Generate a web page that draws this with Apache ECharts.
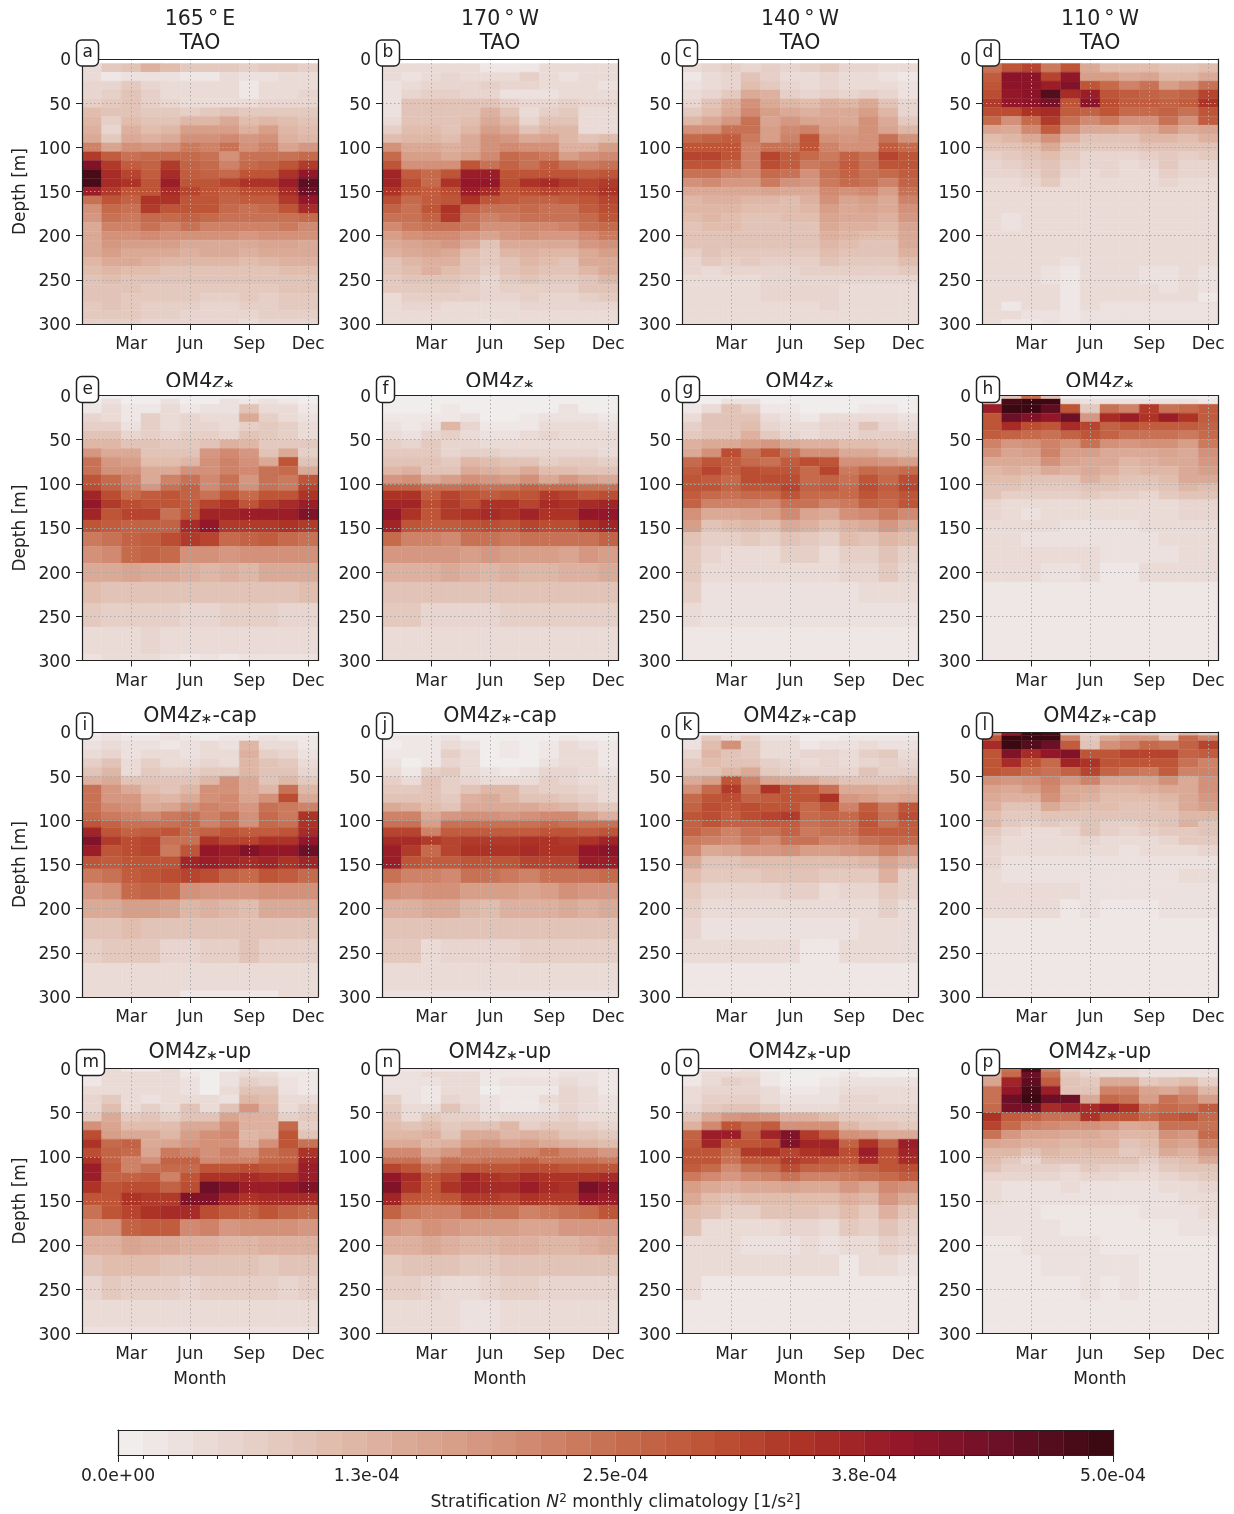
<!DOCTYPE html>
<html><head><meta charset="utf-8">
<style>html,body{margin:0;padding:0;background:#fff}#c{width:1234px;height:1514px}</style>
<script src="https://cdn.jsdelivr.net/npm/echarts@6/dist/echarts.min.js"></script>
</head><body><div id="c"></div>
<script>
const months=['Jan','Feb','Mar','Apr','May','Jun','Jul','Aug','Sep','Oct','Nov','Dec'];
const depthTicks=[0,50,100,150,200,250,300];
const taoEdges=[5,15,25,35,45,55,65,75,85,95,105,115,125,135,145,155,165,175,185,195,205,215,225,235,245,255,265,275,285,295,300];
const om4Edges=[0,4,10,20,30,40,50,60,70,80,90,100,108,118,128,141,155,171,190,211,235,262,293,300];
const colorStops=['#f1eded','#e8d6d0','#e1beb0','#daa692','#d28d75','#c76e50','#bd5234','#ab3025','#931529','#6a1026','#3c0912'];
const cbarLabels=['0.0e+00','1.3e-04','2.5e-04','3.8e-04','5.0e-04'];
const panelLetters=['a','b','c','d','e','f','g','h','i','j','k','l','m','n','o','p'];
const sites=['165\u2009°\u2009E','170\u2009°\u2009W','140\u2009°\u2009W','110\u2009°\u2009W'];

// N2 in units of 1e-5 1/s2; one row per depth bin, one value per month
const a_tao=[[5,8,10,13,11,8,8,8,7,8,8,7],[5,2,3,3,3,2,2,4,3,3,5,5],[6,6,8,6,5,4,4,4,2,5,5,5],[6,7,9,7,5,4,4,4,2,4,5,6],[7,8,9,7,6,5,5,5,5,6,6,6],[11,10,10,8,8,7,8,9,8,8,8,8],[12,7,11,9,10,12,12,14,11,12,11,10],[13,6,13,11,12,17,17,17,13,17,12,11],[14,8,14,13,14,20,20,21,18,20,13,12],[22,16,19,18,20,23,22,24,20,22,16,18],[33,28,24,26,26,26,24,20,24,25,24,26],[42,33,28,27,33,27,26,22,26,27,30,33],[48,36,32,28,36,28,27,26,30,30,35,40],[48,36,35,30,38,30,30,32,34,34,38,46],[38,33,30,30,36,32,29,28,31,31,36,44],[25,29,27,34,34,30,30,27,28,28,33,40],[20,26,25,33,30,29,29,26,25,26,30,36],[18,24,23,26,26,27,26,24,24,24,25,26],[15,22,22,24,22,24,22,22,22,22,23,21],[15,19,19,21,20,19,19,19,18,19,20,19],[15,18,17,17,17,15,15,15,15,16,16,14],[14,17,15,15,14,13,14,14,13,14,15,14],[12,15,14,13,12,12,12,12,11,12,13,13],[11,12,11,11,10,10,10,10,10,10,11,11],[10,11,10,10,10,10,9,9,9,9,10,10],[10,10,9,8,8,8,8,8,8,8,9,9],[9,10,8,8,8,8,7,7,8,7,8,8],[8,9,8,7,7,7,6,6,7,7,8,8],[8,8,8,7,7,6,6,6,6,7,7,7],[7,7,7,6,6,6,6,6,5,6,6,6]];
const b_tao=[[5,5,4,4,5,2,2,2,4,4,4,4],[4,3,5,6,5,4,5,7,5,3,4,4],[3,5,6,6,6,7,6,6,5,5,5,3],[3,6,7,7,6,6,3,3,3,5,5,4],[3,9,9,9,9,9,7,6,6,7,6,6],[3,10,10,10,10,13,10,5,7,8,5,5],[5,10,10,10,11,15,12,6,9,10,4,4],[7,11,11,10,12,17,15,9,12,12,5,5],[11,12,12,11,14,20,18,15,16,12,10,11],[19,14,14,13,15,20,21,20,20,13,13,17],[26,17,17,15,17,21,26,24,23,17,19,21],[29,19,20,19,30,24,27,25,28,24,23,25],[37,28,26,30,38,38,29,30,30,29,28,30],[37,31,26,34,40,40,31,35,36,33,32,33],[35,30,28,31,38,36,30,31,32,31,32,34],[31,26,28,30,35,30,28,27,27,28,30,32],[27,25,30,34,27,25,25,26,25,25,28,31],[24,25,27,33,25,22,23,24,24,24,26,29],[21,23,25,24,23,19,20,21,21,22,24,26],[17,19,21,21,18,16,18,19,18,18,21,23],[15,16,17,18,14,10,14,15,14,14,18,19],[13,14,16,15,11,8,12,13,12,12,15,17],[10,12,13,13,10,8,10,12,11,10,14,15],[9,11,13,11,9,7,10,11,9,9,12,14],[8,9,10,10,8,6,8,9,8,8,10,12],[8,8,8,8,7,6,7,7,7,7,9,10],[5,7,7,7,7,6,6,7,6,6,7,8],[5,6,6,5,5,5,5,6,6,6,6,6],[5,5,5,5,5,5,5,5,5,5,5,5],[5,5,4,5,5,3,5,5,5,5,5,5]];
const c_tao=[[5,6,7,6,7,6,7,8,6,6,5,5],[2,5,6,9,7,5,4,6,5,4,3,2],[3,5,6,11,8,6,5,6,5,5,4,3],[4,6,8,15,13,7,6,7,6,7,6,3],[6,9,13,19,15,12,11,13,12,14,9,6],[8,11,15,21,17,14,13,15,14,17,12,6],[12,14,18,24,16,18,16,16,15,19,14,8],[19,20,24,25,17,21,22,17,17,19,16,12],[26,27,28,23,17,22,29,20,18,20,24,19],[30,30,30,22,24,25,30,22,20,20,28,26],[32,32,29,22,32,28,26,23,27,24,32,29],[29,30,27,22,31,28,23,24,28,25,29,29],[24,24,22,21,26,24,20,25,27,25,26,28],[20,21,18,18,23,20,18,23,26,24,22,27],[15,15,14,15,16,15,15,21,20,21,17,25],[12,13,13,12,12,11,13,19,16,17,15,22],[12,12,12,11,11,11,12,17,15,16,14,20],[11,12,11,10,10,11,11,16,14,14,13,18],[10,11,11,9,9,10,10,15,13,13,12,16],[10,10,10,10,10,9,10,13,12,11,11,15],[9,9,9,9,9,9,9,12,11,10,10,14],[7,9,8,8,8,8,8,11,9,9,9,13],[6,8,7,8,7,7,7,10,8,8,8,11],[6,5,6,6,6,6,7,7,7,7,7,8],[5,5,5,5,6,6,6,6,6,6,6,6],[5,5,5,5,6,6,6,6,5,5,5,5],[5,4,5,5,6,6,6,6,5,5,5,5],[5,4,4,4,5,5,5,6,5,5,5,5],[5,4,5,5,5,5,5,5,5,4,5,5],[5,4,4,4,5,5,5,5,5,4,5,5]];
const d_tao=[[24,30,32,23,30,14,11,11,11,9,9,11],[28,41,41,32,40,17,17,15,16,12,12,14],[30,41,41,38,42,30,26,22,24,17,20,24],[31,40,41,47,36,38,29,28,27,26,27,32],[33,40,41,43,29,41,31,28,28,27,28,34],[31,31,35,36,28,27,30,26,26,27,25,29],[26,19,26,33,25,21,23,19,19,24,19,28],[16,15,21,28,19,14,15,13,15,18,15,16],[11,12,15,19,13,10,10,10,12,12,11,13],[9,9,11,14,10,8,8,8,9,10,9,10],[7,8,9,11,8,6,6,6,7,8,7,8],[6,7,8,10,7,6,6,5,6,8,6,6],[6,6,7,9,6,5,6,5,5,7,6,6],[5,5,6,8,5,5,5,4,5,6,5,5],[4,4,5,5,4,4,4,4,4,5,5,4],[4,4,5,5,4,4,4,4,4,5,5,4],[5,4,5,5,4,4,4,4,4,4,5,4],[5,3,5,4,4,4,4,4,4,4,5,4],[4,3,5,4,4,4,4,4,4,4,4,4],[4,4,4,4,4,4,4,4,4,4,4,4],[4,4,4,4,4,4,4,4,4,4,4,4],[4,4,4,4,4,4,4,4,4,4,4,4],[4,4,4,4,3,4,4,4,4,4,4,4],[4,4,4,3,2,4,4,4,3,3,4,3],[4,4,4,3,2,4,4,4,3,3,4,3],[4,4,4,4,2,4,4,4,4,3,4,3],[4,4,4,4,2,4,4,4,4,4,4,2],[4,2,4,4,2,4,3,3,3,3,3,3],[4,4,3,3,2,3,3,3,3,3,3,3],[4,2,2,3,2,3,3,3,3,3,3,3]];

const e_z=[[1,1,1,1,1,1,1,1,1,1,1,1],[1,3,1,1,3,1,1,3,2,3,2,1],[2,4,2,2,4,2,3,3,9,5,5,2],[6,5,2,7,5,6,4,4,15,7,5,3],[7,7,3,7,4,6,6,5,7,8,7,4],[9,9,6,7,6,7,7,6,9,8,7,5],[12,12,10,9,8,8,9,13,12,8,8,8],[18,15,14,10,9,9,18,21,18,9,14,7],[25,18,17,11,11,12,19,22,20,14,30,10],[25,20,20,14,14,19,20,22,21,24,26,15],[30,26,22,15,22,24,21,25,18,25,23,30],[31,27,23,18,25,27,21,25,20,25,23,32],[37,31,26,28,30,27,25,30,26,30,29,35],[40,33,31,30,30,28,32,34,30,33,36,38],[37,30,32,32,24,30,37,37,38,38,38,42],[30,28,27,27,27,36,40,33,33,33,34,33],[23,25,27,28,31,33,32,26,27,28,26,25],[19,21,26,27,26,20,20,18,20,20,20,19],[14,15,16,15,15,13,12,13,12,15,14,15],[11,10,10,10,10,9,9,9,9,9,9,11],[8,7,7,7,7,6,6,7,7,7,6,6],[5,5,5,6,5,5,5,5,5,5,5,5],[3,4,4,4,3,2,3,2,3,3,3,3]];
const f_z=[[1,1,1,1,1,1,1,1,1,1,1,1],[1,1,1,1,1,1,1,1,1,1,1,1],[1,1,1,2,1,1,1,1,1,3,1,1],[2,2,2,2,3,1,1,2,3,3,3,2],[3,2,3,12,6,2,2,2,4,4,4,3],[5,3,6,7,4,3,3,4,6,5,5,4],[7,6,8,6,6,5,4,5,5,5,5,5],[8,8,8,6,7,7,6,6,6,6,6,5],[10,10,9,8,12,11,9,10,7,8,8,7],[12,13,10,10,14,13,12,15,11,11,10,9],[18,19,15,17,19,18,17,20,15,18,16,14],[27,27,24,25,26,25,24,27,26,26,24,24],[34,34,28,32,29,28,29,30,33,32,29,31],[37,37,31,33,31,35,34,32,36,35,36,37],[39,35,30,33,35,36,35,37,35,35,40,40],[37,29,28,28,29,31,29,32,31,31,35,37],[26,22,22,21,25,25,23,24,24,24,25,27],[18,18,18,18,17,18,17,17,17,16,18,17],[13,13,13,14,13,12,13,12,12,13,13,14],[9,9,9,10,10,9,9,9,9,9,9,9],[8,8,6,6,6,6,7,7,7,7,7,7],[5,5,5,5,5,5,5,5,5,5,5,5],[4,4,4,4,4,4,4,4,4,4,4,4]];
const g_z=[[1,1,1,1,1,1,1,1,1,1,1,1],[1,1,3,3,1,1,1,1,1,1,1,1],[2,5,9,7,2,2,1,1,1,2,2,1],[5,10,10,9,4,3,2,5,4,5,4,3],[7,9,9,11,6,5,4,6,6,10,6,5],[8,9,10,13,8,6,5,6,6,7,7,7],[13,15,15,17,18,15,13,13,11,11,10,10],[15,20,31,25,30,25,20,20,14,14,12,11],[26,30,28,26,25,28,31,30,20,19,18,17],[28,32,28,31,29,29,26,32,23,26,24,26],[29,28,26,31,31,31,26,27,25,29,26,31],[30,29,27,30,30,32,27,28,26,31,28,32],[28,26,25,26,26,29,26,26,26,30,27,30],[27,22,22,22,21,25,24,22,23,27,26,29],[20,15,15,16,17,21,16,15,19,21,23,21],[17,10,11,12,11,14,13,11,13,14,18,15],[10,7,7,8,7,9,8,7,11,9,12,11],[8,6,5,5,5,7,7,5,7,7,9,7],[8,4,4,4,4,4,4,4,6,6,8,6],[7,3,3,3,3,3,3,3,3,4,4,4],[4,3,3,3,3,3,3,3,3,3,3,3],[2,2,2,2,2,2,2,2,2,2,2,2],[2,2,2,2,2,2,2,2,2,2,2,2]];
const h_z=[[1,10,25,10,1,1,1,1,1,1,1,1],[2,48,50,49,5,3,3,3,3,3,3,2],[38,50,50,46,30,8,24,22,33,25,26,28],[30,45,42,40,44,18,36,38,34,38,35,28],[30,36,31,29,36,32,27,29,28,28,28,27],[28,27,26,25,27,30,27,25,24,24,23,26],[22,18,20,22,20,24,20,18,19,19,17,23],[20,16,17,22,17,17,15,14,15,16,15,20],[15,14,14,20,16,15,14,12,13,14,14,18],[12,13,12,15,13,14,13,11,12,12,14,17],[11,11,9,10,10,13,11,10,10,11,15,14],[10,9,8,8,8,10,9,8,8,9,12,11],[9,7,7,7,7,8,7,7,6,8,9,9],[6,5,5,5,4,5,5,5,5,4,6,6],[6,5,3,5,5,5,5,4,5,5,6,6],[5,5,4,4,3,3,3,3,4,4,5,5],[5,5,3,3,3,3,3,3,3,4,4,4],[4,4,4,4,4,4,3,3,3,3,4,5],[4,4,4,3,3,4,2,2,4,4,4,4],[2,2,2,2,2,2,2,2,2,2,2,2],[2,2,2,2,2,2,2,2,2,2,2,2],[2,2,2,2,2,2,2,2,2,2,2,2],[2,2,2,2,2,2,2,2,2,2,2,2]];

const i_cap=[[1,3,1,1,3,1,1,1,1,1,1,1],[2,3,2,2,3,2,1,2,2,3,2,2],[3,4,3,3,2,3,5,3,12,5,4,2],[5,6,3,5,4,3,4,4,13,7,6,3],[7,9,4,7,5,5,6,5,12,9,8,5],[10,12,5,8,7,7,8,8,12,9,9,6],[13,15,10,10,9,10,12,20,15,10,12,8],[25,18,15,11,10,12,19,20,14,12,25,12],[25,18,18,13,12,15,20,21,16,20,31,14],[24,21,20,15,16,20,22,21,18,24,23,22],[26,23,22,21,23,25,22,24,19,26,23,34],[30,27,24,24,24,26,22,25,20,26,24,35],[37,30,27,28,29,26,27,30,28,28,30,36],[42,33,31,32,24,25,34,32,32,34,35,40],[38,29,31,32,23,30,40,38,42,40,39,44],[29,28,29,29,29,37,38,37,36,37,34,37],[23,24,28,30,31,32,31,27,26,29,28,26],[18,20,26,27,26,19,18,18,18,20,20,19],[14,15,17,17,16,12,13,12,11,14,14,14],[10,10,11,10,10,9,9,9,9,9,9,9],[7,8,8,8,6,6,7,7,9,7,7,7],[5,5,5,5,5,5,5,5,5,5,5,5],[4,4,4,4,4,2,2,2,2,2,4,4]];
const j_cap=[[1,1,1,1,1,1,1,1,1,1,1,1],[2,2,2,3,1,1,1,1,1,2,1,1],[1,2,2,4,3,1,2,1,2,4,3,2],[2,2,2,7,4,1,2,1,2,5,4,2],[3,1,2,6,4,1,1,1,3,4,4,2],[5,2,7,8,5,3,2,3,6,6,5,3],[7,4,9,7,6,5,5,5,7,6,5,4],[8,8,9,7,9,12,12,8,7,7,6,4],[10,9,10,8,13,14,12,10,9,8,7,5],[14,13,11,10,15,15,15,15,13,12,10,8],[22,22,14,18,19,20,18,19,21,21,17,13],[25,25,17,25,25,25,25,25,26,25,24,24],[32,32,22,28,28,28,28,28,30,30,28,29],[36,36,33,32,33,33,33,34,34,33,35,37],[38,33,26,32,34,34,34,36,35,34,39,41],[38,30,28,28,30,30,30,32,32,32,38,38],[25,22,22,21,24,24,23,22,25,25,25,26],[19,18,19,19,17,17,17,16,17,19,18,18],[13,13,14,14,12,11,13,13,13,14,13,14],[9,9,9,9,9,9,9,10,10,9,9,9],[8,8,5,6,6,6,6,7,7,7,7,7],[5,5,5,5,5,5,5,5,5,5,5,5],[3,3,3,3,3,3,3,3,3,3,3,3]];
const k_cap=[[1,1,2,2,1,1,1,1,1,1,1,1],[3,8,5,7,3,3,1,1,2,2,2,2],[3,11,20,8,4,4,2,3,3,4,3,3],[6,12,9,8,5,5,6,6,5,7,8,5],[8,11,9,9,7,6,5,6,5,6,7,6],[9,10,12,14,8,7,6,6,6,9,7,7],[14,17,29,22,16,15,15,12,10,10,10,11],[20,26,33,25,34,30,28,24,15,14,13,13],[26,30,31,27,28,30,29,34,18,17,15,16],[27,31,29,31,30,30,26,30,22,28,23,29],[29,31,28,31,32,33,26,27,26,30,24,31],[27,30,27,27,28,28,25,26,25,29,25,28],[27,24,22,24,24,27,23,24,24,28,28,28],[23,22,21,23,21,24,24,22,22,25,26,26],[21,15,16,18,18,20,17,17,18,19,22,19],[15,10,10,11,11,11,11,11,11,12,16,13],[11,8,8,8,9,9,9,8,8,8,13,7],[8,6,6,6,6,7,7,5,6,6,8,7],[7,4,4,4,4,4,4,4,5,5,7,4],[6,3,3,3,3,3,3,3,3,4,4,4],[4,4,4,4,4,4,2,2,4,4,4,4],[2,2,2,2,2,2,2,2,2,2,2,2],[2,2,2,2,2,2,2,2,2,2,2,2]];
const l_cap=[[22,40,50,48,10,6,5,10,8,6,12,8],[30,50,50,50,22,8,14,18,18,10,26,22],[36,50,47,44,28,10,20,22,26,25,27,32],[30,42,36,39,42,30,30,32,32,32,27,28],[30,36,29,26,37,35,30,29,30,30,25,22],[29,28,26,24,27,32,27,24,23,28,22,22],[20,18,20,22,18,22,16,16,16,19,15,20],[16,14,17,21,15,15,12,12,13,14,14,19],[14,13,13,19,14,13,11,11,11,12,14,18],[13,10,10,15,12,11,11,9,9,11,14,17],[11,8,8,9,9,10,9,9,9,10,12,12],[12,8,7,8,7,9,7,7,8,9,13,9],[8,6,5,5,6,9,7,6,7,8,8,9],[7,5,4,4,4,6,5,5,5,6,8,8],[6,4,4,4,4,4,4,3,4,4,5,6],[6,3,3,3,3,3,3,3,3,3,3,3],[5,3,3,3,3,3,3,3,3,3,5,5],[4,4,4,4,4,3,3,3,3,3,3,3],[4,4,4,4,2,3,2,2,2,3,3,3],[2,2,2,2,2,2,2,2,2,2,2,2],[2,2,2,2,2,2,2,2,2,2,2,2],[2,2,2,2,2,2,2,2,2,2,2,2],[2,2,2,2,2,2,2,2,2,2,2,2]];

const m_up=[[2,4,2,2,4,1,1,1,3,1,1,1],[2,4,4,4,4,2,1,3,5,4,2,2],[2,5,4,4,4,3,1,3,7,6,3,2],[5,5,4,4,4,3,1,4,10,10,3,2],[6,8,4,3,4,4,4,3,12,11,4,4],[6,11,5,7,4,9,4,10,18,12,5,7],[8,15,8,10,7,9,9,16,13,13,7,8],[19,16,11,11,11,14,14,19,13,13,26,7],[31,17,15,15,12,17,19,21,12,13,30,10],[34,26,27,14,16,18,19,20,13,19,30,25],[31,27,26,16,23,22,20,22,20,24,27,35],[34,27,22,20,27,27,21,22,22,26,27,37],[38,28,22,24,26,26,30,29,31,30,29,38],[38,27,27,28,22,29,35,34,36,34,34,38],[35,30,31,31,27,31,44,42,38,38,40,42],[29,30,34,33,33,42,42,37,34,36,36,36],[25,30,32,34,36,36,31,28,27,30,27,26],[20,20,27,28,28,21,22,18,19,19,19,18],[13,13,16,15,15,13,13,12,12,13,13,13],[9,11,11,11,9,9,9,9,9,8,9,9],[6,8,7,7,7,6,7,7,7,7,6,7],[5,5,4,4,4,4,4,4,4,5,5,5],[3,3,3,3,3,3,3,3,3,3,3,3]];
const n_up=[[2,2,2,2,2,2,2,2,2,2,2,2],[3,3,4,4,4,2,2,2,2,3,3,2],[3,3,3,4,5,2,3,3,3,4,3,2],[3,3,2,4,4,1,2,2,2,6,4,2],[7,3,2,6,5,3,2,2,4,6,5,3],[8,4,5,10,6,3,2,2,3,6,5,3],[9,5,8,7,7,5,6,6,6,7,5,5],[11,9,11,8,9,9,12,7,8,8,7,6],[12,12,13,9,14,14,12,13,12,10,9,8],[15,14,12,13,17,18,16,17,15,13,12,11],[21,21,16,18,22,22,22,22,24,22,21,18],[25,25,20,24,23,25,25,27,25,25,25,23],[32,30,25,27,29,30,30,31,31,30,29,29],[40,36,29,32,37,35,33,36,35,34,34,36],[42,35,30,34,37,36,36,38,36,35,43,41],[37,29,28,30,33,33,32,34,33,33,39,38],[27,23,22,22,24,25,24,22,23,25,26,29],[18,17,19,18,17,17,17,16,16,18,18,18],[13,13,14,13,12,12,13,13,12,12,13,14],[8,9,10,9,8,8,9,9,9,9,9,9],[7,7,6,5,5,6,7,7,6,6,6,6],[5,5,5,5,3,3,5,5,5,5,5,5],[4,4,4,4,3,3,4,4,4,4,4,4]];
const o_up=[[2,2,2,3,1,1,1,1,1,1,1,1],[2,4,4,4,2,1,1,1,2,1,1,1],[2,5,7,6,2,1,1,2,3,3,3,3],[4,6,6,6,4,2,2,3,5,5,4,4],[5,7,7,7,5,3,3,3,6,6,5,5],[6,8,9,10,7,4,4,4,6,6,6,6],[10,14,18,19,18,13,13,11,8,8,7,7],[13,21,30,26,28,20,20,19,12,10,9,8],[27,38,38,28,37,42,33,28,19,18,14,14],[28,37,29,30,31,42,37,37,27,35,27,38],[30,30,26,33,34,32,35,36,31,38,31,37],[30,29,24,30,30,33,32,30,30,36,30,36],[28,26,21,24,26,31,27,27,26,27,29,31],[23,21,18,21,22,25,22,22,23,25,26,28],[17,14,13,14,15,16,14,14,18,16,21,19],[15,11,10,11,11,11,11,11,13,12,18,15],[11,9,7,7,9,9,9,8,11,8,13,9],[9,5,4,4,4,6,6,4,8,7,9,7],[5,5,5,3,3,3,4,3,4,4,7,6],[4,4,4,4,4,4,4,4,2,4,4,3],[4,2,2,2,2,2,2,2,2,2,2,2],[2,2,2,2,2,2,2,2,2,2,2,2],[2,2,2,2,2,2,2,2,2,2,2,2]];
const p_up=[[14,24,48,22,6,4,4,4,3,3,3,3],[14,26,45,24,8,6,4,4,3,3,3,3],[16,37,46,28,9,8,14,15,8,9,11,7],[24,40,48,38,10,9,22,22,16,14,18,12],[25,44,50,44,44,15,26,25,17,25,22,17],[26,43,45,36,38,36,38,34,24,26,24,28],[34,28,27,25,25,34,30,30,26,28,29,26],[32,26,22,21,20,20,18,15,16,24,25,25],[24,18,16,16,15,15,13,12,12,20,18,26],[16,14,13,13,12,13,13,10,11,17,16,22],[12,12,9,12,11,11,11,8,9,14,13,18],[11,8,6,10,10,10,10,9,7,10,11,14],[9,7,7,7,6,8,7,7,6,8,9,9],[6,6,6,6,5,6,6,5,5,6,7,8],[5,3,3,3,4,3,3,3,3,5,5,6],[4,3,3,3,3,3,3,3,3,3,5,5],[3,3,3,2,2,2,2,2,3,3,3,4],[3,3,3,3,2,2,2,2,2,2,3,3],[2,2,3,3,3,3,2,2,2,2,2,2],[2,2,2,3,3,3,3,3,2,2,2,2],[2,2,2,2,2,3,2,3,2,2,2,2],[2,2,2,2,2,2,2,2,2,2,2,2],[2,2,2,2,2,2,2,2,2,2,2,2]];

const panelData=[a_tao,b_tao,c_tao,d_tao,e_z,f_z,g_z,h_z,i_cap,j_cap,k_cap,l_cap,m_up,n_up,o_up,p_up];

const FONT='DejaVu Sans', INK='#222222', TICKFS=17, TITLEFS=20.5;
const colLeft=[82,382,682,982], rowTop=[59,395.5,732,1068.5], W=236, H=265;
const grid=[],xAxis=[],yAxis=[],series=[],title=[],graphic=[];
const dotted={show:true,lineStyle:{color:'#aaaaaa',width:1,type:[1.5,2.5]}};
const edgeAxis=(g,pos)=>({type:'value',gridIndex:g,position:pos,min:0,max:1,z:6,silent:true,
  axisLine:{show:true,onZero:false,lineStyle:{color:INK,width:1.2}},axisTick:{show:false},axisLabel:{show:false},splitLine:{show:false}});

function renderCell(p,api){
  const m=api.value(0),c0=api.coord([m,api.value(1)]),c1=api.coord([m,api.value(2)]),w=api.size([1,0])[0],col=api.visual('color');
  return {type:'rect',shape:{x:c0[0]-w/2,y:c0[1],width:w,height:c1[1]-c0[1]},style:{fill:col,stroke:col,lineWidth:0.4}};
}
function renderBar(p,api){
  const c0=api.coord([api.value(0),0]),c1=api.coord([api.value(2),1]),col=api.visual('color');
  return {type:'rect',shape:{x:c0[0],y:c1[1],width:c1[0]-c0[0],height:c0[1]-c1[1]},style:{fill:col,stroke:col,lineWidth:0.3}};
}
const richTitle={a:{fontFamily:FONT,fontSize:TITLEFS,color:INK},i:{fontFamily:FONT,fontSize:TITLEFS,fontStyle:'italic',color:INK},s:{fontFamily:FONT,fontSize:14,color:INK,padding:[6,0,0,0]}};
const titleFor=(r)=>'{a|OM4}{i|z}{s|∗}'+(r===2?'{a|-cap}':r===3?'{a|-up}':'');

panelData.forEach((rows,idx)=>{
  const r=Math.floor(idx/4),c=idx%4,left=colLeft[c],top=rowTop[r],edges=r===0?taoEdges:om4Edges;
  grid.push({left,top,width:W,height:H,containLabel:false});
  const xi=xAxis.length,yi=yAxis.length;
  xAxis.push({type:'category',gridIndex:idx,data:months,boundaryGap:true,position:'bottom',z:5,silent:true,
    name:r===3?'Month':'',nameLocation:'middle',nameGap:38,nameTextStyle:{fontFamily:FONT,fontSize:TICKFS,color:INK},
    axisLine:{show:true,onZero:false,lineStyle:{color:INK,width:1.2}},
    axisTick:{show:true,alignWithLabel:true,interval:i=>i%3===2,length:6,lineStyle:{color:INK,width:1}},
    axisLabel:{interval:i=>i%3===2,fontFamily:FONT,fontSize:TICKFS,color:INK,margin:12.5,hideOverlap:false},
    splitLine:Object.assign({alignWithLabel:true,interval:i=>i%3===2},dotted)});
  xAxis.push(edgeAxis(idx,'top'));
  yAxis.push({type:'value',gridIndex:idx,inverse:true,min:0,max:300,interval:50,position:'left',z:5,silent:true,
    name:c===0?'Depth [m]':'',nameLocation:'middle',nameGap:53,nameTextStyle:{fontFamily:FONT,fontSize:TICKFS,color:INK},
    axisLine:{show:true,onZero:false,lineStyle:{color:INK,width:1.2}},
    axisTick:{show:true,length:6,lineStyle:{color:INK,width:1}},
    axisLabel:{fontFamily:FONT,fontSize:TICKFS,color:INK,margin:11,formatter:v=>'{v|'+v+'}',rich:{v:{fontFamily:FONT,fontSize:TICKFS,color:INK,padding:[4,0,0,0]}}},
    splitLine:Object.assign({showMinLine:false,showMaxLine:false},dotted)});
  yAxis.push(edgeAxis(idx,'right'));
  const data=[];
  rows.forEach((row,ri)=>row.forEach((v,m)=>data.push([m,edges[ri],edges[ri+1],v])));
  series.push({type:'custom',xAxisIndex:xi,yAxisIndex:yi,coordinateSystem:'cartesian2d',renderItem:renderCell,data,
    encode:{x:0,y:[1,2]},clip:true,silent:true,animation:false,z:2});
  const cx=left+W/2;
  if(r===0){
    title.push({text:sites[c],left:cx,top:9.5,padding:0,textAlign:'center',textStyle:{fontFamily:FONT,fontSize:TITLEFS,fontWeight:'normal',color:INK}});
    title.push({text:'TAO',left:cx,top:33,padding:0,textAlign:'center',textStyle:{fontFamily:FONT,fontSize:TITLEFS,fontWeight:'normal',color:INK}});
  }else{
    title.push({text:titleFor(r),left:cx,top:top-(r===1?23.5:26),padding:0,textAlign:'center',textStyle:{rich:richTitle,fontFamily:FONT,fontSize:TITLEFS,fontWeight:'normal',color:INK}});
  }
  if(r===1) graphic.push({type:'rect',silent:true,z:7,shape:{x:cx-70,y:top-8.5,width:140,height:7.5},style:{fill:'#ffffff'}});
  title.push({text:panelLetters[idx],left:left-5.5,top:top-19,z:9,padding:[3,6,3,6],backgroundColor:'#ffffff',borderColor:INK,borderWidth:1.5,borderRadius:5,
    textStyle:{fontFamily:FONT,fontSize:17,fontWeight:'normal',color:INK,lineHeight:20}});
});

// colour bar: 40 discrete levels, same visual map as the panels
const LEVELS=40, VMAX=50, cg=16;
grid.push({left:118,top:1430,width:995,height:25});
const cx0=xAxis.length,cy0=yAxis.length;
xAxis.push({type:'value',gridIndex:cg,min:0,max:VMAX,interval:12.5,position:'bottom',z:5,silent:true,
  name:'{t|Stratification }{i|N}{u|2}{t| monthly climatology [1/s}{u|2}{t|]}',nameLocation:'middle',nameGap:38,
  nameTextStyle:{rich:{t:{fontFamily:FONT,fontSize:17.2,color:INK},i:{fontFamily:FONT,fontSize:17.2,fontStyle:'italic',color:INK},u:{fontFamily:FONT,fontSize:12,color:INK,padding:[0,0,7,0]}}},
  axisLine:{show:true,onZero:false,lineStyle:{color:INK,width:1.2}},
  axisTick:{show:true,length:7,lineStyle:{color:INK,width:1}},
  minorTick:{show:true,splitNumber:10,length:4,lineStyle:{color:INK,width:1}},
  axisLabel:{fontFamily:FONT,fontSize:17.2,color:INK,margin:13,formatter:(v)=>cbarLabels[Math.round(v/12.5)]},
  splitLine:{show:false}});
xAxis.push(edgeAxis(cg,'top'));
yAxis.push({type:'value',gridIndex:cg,min:0,max:1,position:'left',z:5,silent:true,axisLine:{show:true,onZero:false,lineStyle:{color:INK,width:1.2}},axisTick:{show:false},axisLabel:{show:false},splitLine:{show:false}});
yAxis.push(edgeAxis(cg,'right'));
const barData=[];
for(let l=0;l<LEVELS;l++) barData.push([l*VMAX/LEVELS,0,(l+1)*VMAX/LEVELS,(l+0.5)*VMAX/LEVELS]);
series.push({type:'custom',xAxisIndex:cx0,yAxisIndex:cy0,coordinateSystem:'cartesian2d',renderItem:renderBar,data:barData,encode:{x:[0,2],y:1},clip:true,silent:true,animation:false,z:2});

const chart=echarts.init(document.getElementById('c'),null,{renderer:'canvas'});
chart.setOption({backgroundColor:'#ffffff',animation:false,textStyle:{fontFamily:FONT},tooltip:{show:false},
  visualMap:{type:'piecewise',show:false,min:0,max:VMAX,splitNumber:LEVELS,dimension:3,seriesIndex:series.map((s,i)=>i),inRange:{color:colorStops}},
  grid,xAxis,yAxis,series,title,graphic});
</script></body></html>
